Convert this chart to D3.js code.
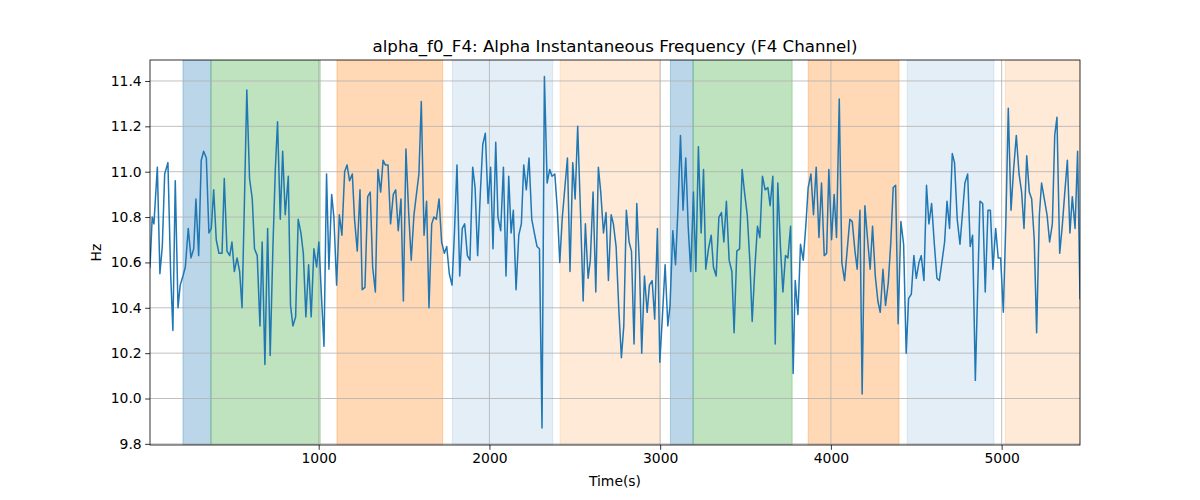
<!DOCTYPE html>
<html><head><meta charset="utf-8">
<script src="https://cdn.jsdelivr.net/npm/d3@7"></script>
<style>body{margin:0;background:#fff} svg{display:block} text{font-family:"DejaVu Sans",sans-serif;fill:#000}</style>
</head><body><svg id="c" width="1200" height="500"></svg>
<script>
const times=[12,25,35,55,70,84,98,117,133,146,160,176,189,205,219,236,252,268,281,297,312,326,342,357,371,385,400,416,434,447,463,479,492,506,522,537,551,
564,579,595,611,624,640,656,669,685,701,716,732,746,759,775,789,804,822,835,849,865,880,896,910,925,941,956,972,988,1001,1015,1031,1046,1060,1076,
1089,1105,1121,1136,1152,1166,1181,1197,1210,1226,1242,1255,1271,1287,1302,1316,1332,1347,1363,1377,1390,1406,1421,1437,1451,1466,1482,1496,1511,1527,1542,1558,1574,1587,1601,1617,
1632,1646,1662,1675,1689,1705,1720,1736,1750,1765,1781,1795,1810,1826,1841,1855,1871,1886,1902,1916,1931,1947,1961,1976,1992,2007,2021,2037,2050,2066,2082,2097,2113,2127,2140,2156,
2172,2187,2201,2216,2232,2248,2263,2279,2293,2308,2322,2338,2353,2367,2383,2398,2412,2427,2443,2457,2472,2488,2502,2517,2533,2549,2562,2578,2591,2607,2623,2638,2652,2668,2683,2697,
2713,2726,2742,2758,2773,2787,2802,2818,2832,2847,2863,2879,2892,2908,2924,2937,2953,2968,2984,2998,3013,3029,3045,3058,3074,3090,3105,3119,3134,3150,3164,3179,3195,3209,3224,3240,
3254,3267,3283,3299,3312,3328,3344,3359,3373,3388,3404,3420,3433,3449,3465,3480,3494,3510,3525,3539,3555,3570,3584,3599,3615,3631,3644,3660,3674,3689,3705,3719,3734,3748,3764,3779,
3791,3807,3822,3838,3853,3867,3883,3898,3914,3930,3945,3961,3975,3988,4004,4019,4033,4049,4064,4080,4096,4111,4125,4141,4154,4170,4183,4199,4215,4230,4244,4260,4275,4289,4305,4320,
4336,4351,4365,4379,4394,4410,4426,4441,4455,4471,4486,4500,4516,4529,4545,4560,4574,4590,4605,4621,4635,4650,4666,4680,4695,4711,4724,4740,4756,4771,4785,4801,4816,4830,4846,
4873,4889,4904,4920,4934,4949,4965,4980,4994,5010,5025,5039,5055,5070,5086,5102,5117,5131,5147,5162,5176,5191,5205,5221,5234,5250,5266,5281,5297,5311,5324,5340,5355,5371,5385,5400,5414,5430,5445,5459];
const values=[10.58,10.80,10.77,11.02,10.55,10.67,10.99,11.04,10.55,10.30,10.96,10.40,10.50,10.54,10.58,10.75,10.62,10.66,10.88,10.63,11.05,11.09,11.06,10.73,10.75,10.92,10.70,10.64,10.64,10.97,10.65,10.63,10.69,10.56,10.62,10.56,10.40,
10.83,11.36,10.97,10.88,10.66,10.63,10.32,10.69,10.15,10.75,10.19,10.67,11.01,11.22,10.79,11.09,10.81,10.98,10.41,10.32,10.36,10.79,10.73,10.64,10.36,10.59,10.36,10.66,10.58,10.69,10.47,10.23,10.99,10.57,10.90,
10.80,10.50,10.81,10.72,11.00,11.03,10.96,10.99,10.79,10.65,10.92,10.48,10.49,10.89,10.91,10.58,10.47,11.01,10.91,11.05,11.03,11.03,10.77,10.90,10.92,10.74,10.88,10.43,11.10,10.82,10.61,10.81,10.91,10.99,11.31,10.72,
10.87,10.40,10.77,10.80,10.79,10.88,10.69,10.64,10.67,10.55,10.50,10.73,11.03,10.54,10.75,10.77,10.63,10.61,11.02,10.93,10.63,10.91,11.12,11.17,10.86,11.02,10.66,11.13,10.80,10.74,11.02,10.54,10.98,10.73,10.83,10.48,
10.72,10.77,11.03,10.92,11.06,10.79,10.73,10.67,10.66,9.87,11.42,10.95,11.01,10.98,10.99,10.83,10.60,10.80,10.94,11.06,10.56,11.04,10.88,11.20,10.83,10.43,10.77,10.53,10.61,10.91,10.47,11.02,10.91,10.73,10.82,10.52,
10.81,10.77,10.67,10.39,10.18,10.32,10.83,10.69,10.65,10.24,10.86,10.58,10.20,10.54,10.38,10.50,10.52,10.35,10.75,10.16,10.36,10.59,10.32,10.41,10.74,10.59,10.85,11.16,10.83,11.06,10.76,10.56,10.91,10.56,11.11,10.73,
11.01,10.57,10.66,10.72,10.58,10.54,10.80,10.82,10.69,10.87,10.61,10.56,10.29,10.65,10.66,11.01,10.91,10.81,10.61,10.34,10.58,10.76,10.71,10.98,10.92,10.93,10.85,10.98,10.24,10.95,10.66,10.47,10.63,10.62,10.76,10.11,
10.52,10.37,10.68,10.61,10.76,10.93,10.99,10.81,11.02,10.71,10.95,10.63,10.64,11.01,10.70,10.90,10.71,11.32,10.60,10.52,10.66,10.79,10.78,10.65,10.57,10.83,10.02,10.85,10.70,10.57,10.76,10.54,10.43,10.38,10.57,10.41,
10.51,10.69,10.93,10.94,10.33,10.78,10.68,10.20,10.44,10.46,10.63,10.53,10.60,10.63,10.52,10.94,10.77,10.86,10.69,10.53,10.52,10.60,10.69,10.87,10.75,11.08,11.04,10.79,10.68,10.82,10.95,10.99,10.67,10.72,10.08,
10.87,10.86,10.47,10.83,10.83,10.57,10.75,10.62,10.62,10.38,10.79,11.28,10.83,11.01,11.16,10.99,10.91,10.75,11.07,10.91,10.88,10.70,10.29,10.81,10.95,10.88,10.81,10.69,10.77,11.16,11.24,10.64,10.76,10.92,11.05,10.73,10.89,10.75,11.09,10.44];

const spanStart=[205,369,1107,1783,2414,3060,3193,3867,4447,5022];
const spanEnd=[369,1009,1726,2371,3000,3193,3773,4399,4955,5459];
const spanKind=["blue","green","orange","lightblue","lightorange","blue","green","orange","lightblue","lightorange"];
const xTicks=[1000,2000,3000,4000,5000];
const yTicks=[9.8,10.0,10.2,10.4,10.6,10.8,11.0,11.2,11.4];
const yDomain=[9.795,11.4925];
const titleText="alpha_f0_F4: Alpha Instantaneous Frequency (F4 Channel)";
const xLabel="Time(s)", yLabel="Hz";

const kindStyle={
  blue:{c:"#1f77b4",o:0.3}, green:{c:"#2ca02c",o:0.3}, orange:{c:"#ff7f0e",o:0.3},
  lightblue:{c:"#1f77b4",o:0.12}, lightorange:{c:"#ff7f0e",o:0.16}
};

const L=150,R=1080,T=60,B=445;
const svg=d3.select("#c");
const x=d3.scaleLinear().domain(d3.extent(times)).range([L,R]);
const y=d3.scaleLinear().domain(yDomain).range([B,T]);

svg.append("defs").append("clipPath").attr("id","clip").append("rect")
  .attr("x",L).attr("y",T).attr("width",R-L).attr("height",B-T);

const spans=spanStart.map((s,i)=>({s,e:spanEnd[i],k:spanKind[i]}));
svg.append("g").attr("clip-path","url(#clip)").selectAll("rect").data(spans).join("rect")
  .attr("x",d=>x(d.s)).attr("width",d=>x(d.e)-x(d.s))
  .attr("y",T).attr("height",B-T)
  .attr("fill",d=>kindStyle[d.k].c).attr("fill-opacity",d=>kindStyle[d.k].o)
  .attr("stroke",d=>kindStyle[d.k].c).attr("stroke-opacity",d=>kindStyle[d.k].o).attr("stroke-width",1);

// grid
const grid=svg.append("g").attr("stroke","#b0b0b0").attr("stroke-width",0.8);
grid.selectAll(".gx").data(xTicks).join("line")
  .attr("x1",d=>x(d)).attr("x2",d=>x(d)).attr("y1",T).attr("y2",B);
grid.selectAll(".gy").data(yTicks).join("line")
  .attr("y1",d=>y(d)).attr("y2",d=>y(d)).attr("x1",L).attr("x2",R);

// line
const pts=times.map((t,i)=>[t,values[i]]);
svg.append("path").datum(pts).attr("clip-path","url(#clip)")
  .attr("fill","none").attr("stroke","#1f77b4").attr("stroke-width",1.5)
  .attr("stroke-linejoin","round").attr("stroke-linecap","square")
  .attr("d",d3.line().x(d=>x(d[0])).y(d=>y(d[1])));

// axes
const xAxis=d3.axisBottom(x).tickValues(xTicks).tickSize(4.86).tickPadding(3.5).tickFormat(d3.format("d"));
const gx=svg.append("g").attr("transform",`translate(0,${B})`).call(xAxis);
const yAxis=d3.axisLeft(y).tickValues(yTicks).tickSize(4.86).tickPadding(3.5).tickFormat(d3.format(".1f"));
const gy=svg.append("g").attr("transform",`translate(${L},0)`).call(yAxis);
[gx,gy].forEach(g=>{
  g.select(".domain").remove();
  g.selectAll(".tick line").attr("stroke","#000").attr("stroke-width",0.8);
  g.selectAll(".tick text").attr("font-size","13.9px").attr("font-family","DejaVu Sans").attr("fill","#000");
});

svg.append("rect").attr("x",L).attr("y",T).attr("width",R-L).attr("height",B-T)
  .attr("fill","none").attr("stroke","#000").attr("stroke-width",0.8);

svg.append("text").attr("x",(L+R)/2).attr("y",52).attr("text-anchor","middle")
  .attr("font-size","16.67px").text(titleText);
svg.append("text").attr("x",(L+R)/2).attr("y",486).attr("text-anchor","middle")
  .attr("font-size","13.9px").text(xLabel);
svg.append("text").attr("transform",`translate(101,${(T+B)/2}) rotate(-90)`).attr("text-anchor","middle")
  .attr("font-size","13.9px").text(yLabel);
</script></body></html>
